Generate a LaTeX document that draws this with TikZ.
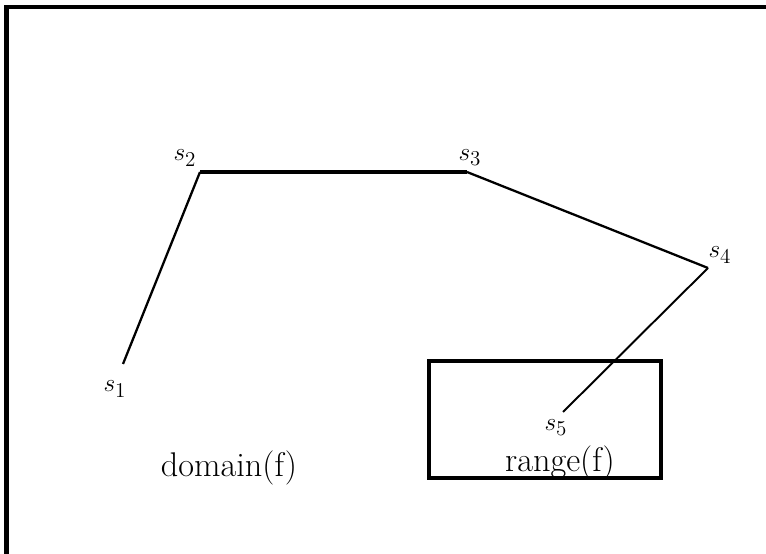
\documentclass[tikz,border=0pt]{standalone}
\newcommand{\ptlbl}[1]{$s_{\mbox{\fontsize{12}{12}\selectfont #1}}$}
\begin{document}
\begin{tikzpicture}[scale=1]
\tikzstyle{lbl} = [inner sep=0pt, font=\fontsize{14}{16}\selectfont]
\tikzstyle{txt} = [inner sep=0pt, font=\fontsize{19.5}{22}\selectfont]
\useasboundingbox (0,0) rectangle (15.32,11.08);

% frame
\draw[line width=2.3pt] (0.13,0) -- (0.13,10.94) -- (15.4,10.94);

\coordinate (p1) at (2.46,3.80);
\coordinate (p2) at (4.00,7.64);
\coordinate (p3) at (9.34,7.64);
\coordinate (p4) at (14.16,5.72);
\coordinate (p5) at (11.26,2.84);

\draw[line width=1.3pt] (p1) -- (p2);
\draw[line width=2pt] (p2) -- (p3);
\draw[line width=1.3pt] (p3) -- (p4);
\draw[line width=1.1pt] (p4) -- (p5);

\node[lbl] (s1) at (2.30,3.30) {\ptlbl{1}};
\node[lbl] (s2) at (3.70,7.92) {\ptlbl{2}};
\node[lbl] (s3) at (9.40,7.92) {\ptlbl{3}};
\node[lbl] (s4) at (14.40,5.98) {\ptlbl{4}};
\node[lbl] (s5) at (11.12,2.52) {\ptlbl{5}};

\draw[line width=2.2pt] (8.58,3.86) rectangle (13.22,1.52);

\node[txt] (dom) at (4.58,1.72) {domain(f)};
\node[txt] (ran) at (11.20,1.82) {range(f)};

\end{tikzpicture}
\end{document}
